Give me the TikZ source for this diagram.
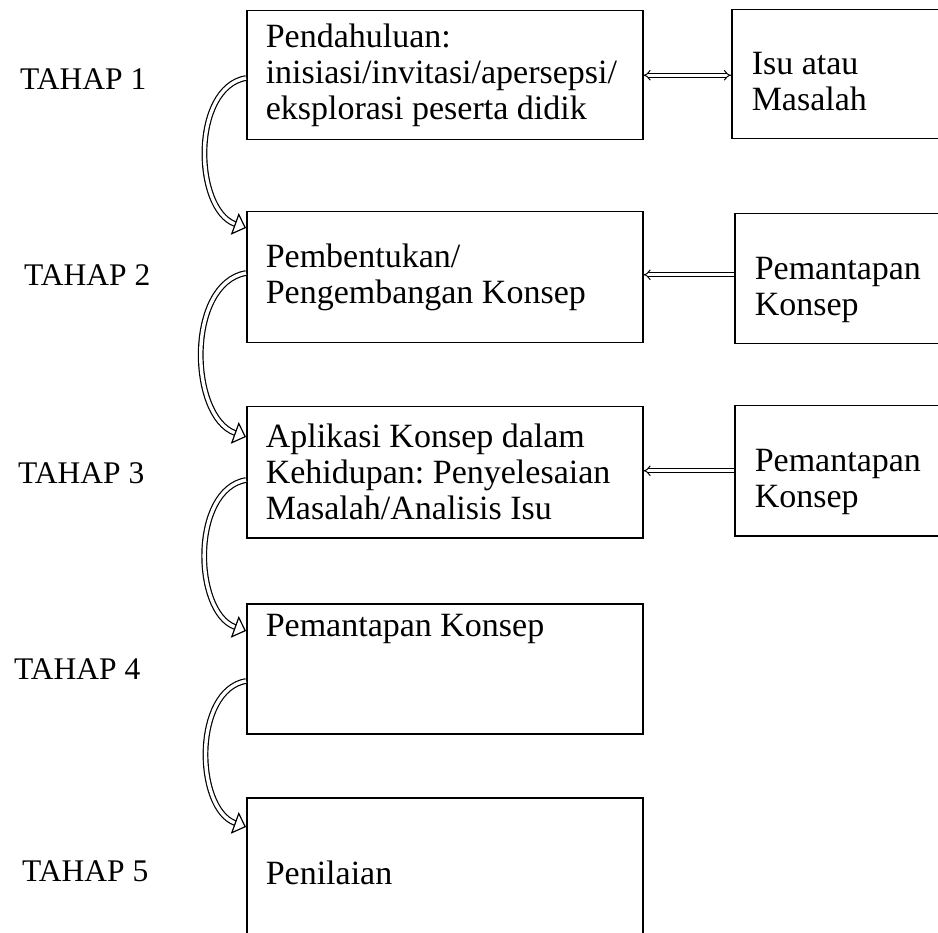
\documentclass[tikz,border=0pt]{standalone}
\usepackage{fontspec}
\setmainfont{Liberation Serif}
\usetikzlibrary{arrows.meta}
\frenchspacing

\tikzset{
  stagebox/.style={draw, line width=1.5pt, anchor=north west, minimum width=396pt,
    text width=358pt, inner xsep=19pt, align=flush left, font=\fontsize{34}{36}\selectfont},
  sidebox/.style={draw, line width=1.5pt, anchor=north west, minimum width=230pt,
    text width=190pt, inner xsep=20pt, align=flush left, font=\fontsize{34}{36}\selectfont},
  stagelabel/.style={anchor=west, inner sep=0pt, font=\fontsize{31.5}{36}\selectfont},
  flatarrow/.style={double, double distance=2.6pt, line width=1pt},
  bendarrow/.style={double, double distance=3.4pt, line width=1.2pt,
    -{Triangle[open, length=12pt, width=23pt, line width=1.2pt]}, out=190, in=160, looseness=0.95}
}

\begin{document}
\begin{tikzpicture}[x=1pt, y=1pt]
\clip (0,0) rectangle (938,-933);

% stages
\node[stagebox, minimum height=129pt] (s1) at (246,-10) {Pendahuluan:\\ inisiasi/invitasi/apersepsi/\\ eksplorasi peserta didik};
\node[stagebox, minimum height=131pt] (s2) at (246,-211) {Pembentukan/\\ Pengembangan Konsep};
\node[stagebox, minimum height=131pt] (s3) at (246,-406) {Aplikasi Konsep dalam\\ Kehidupan: Penyelesaian\\ Masalah/Analisis Isu};
\node[stagebox, minimum height=130pt, text depth=86pt] (s4) at (246,-603) {Pemantapan Konsep};
\node[stagebox, minimum height=150pt] (s5) at (246,-797) {Penilaian};

% side boxes
\node[sidebox, minimum height=129pt, text height=37pt] (i1) at (731,-9) {Isu atau\\ Masalah};
\node[sidebox, minimum height=130pt, text height=45pt] (p2) at (734,-213) {Pemantapan\\ Konsep};
\node[sidebox, minimum height=130pt, text height=45pt] (p3) at (734,-405) {Pemantapan\\ Konsep};

\foreach \i/\x/\y in {1/20/79, 2/24/275, 3/18/473, 4/14/669, 5/22/871}
  \node[stagelabel] (t\i) at (\x,-\y) {TAHAP \i};

% links to side boxes
\draw[flatarrow, {Implies}-{Implies}] (s1.east) -- (s1.east -| i1.west);
\draw[flatarrow, -{Implies}] ([yshift=4pt]p2.west) -- ([yshift=4pt]p2.west -| s2.east);
\draw[flatarrow, -{Implies}] (p3.west) -- (p3.west -| s3.east);

% flow between stages
\draw[bendarrow] ([yshift=-68pt]s1.north west) to ([yshift=-17pt]s2.north west);
\draw[bendarrow] ([yshift=-62pt]s2.north west) to ([yshift=-31pt]s3.north west);
\draw[bendarrow] ([yshift=-74pt]s3.north west) to ([yshift=-28pt]s4.north west);
\draw[bendarrow] ([yshift=-78pt]s4.north west) to ([yshift=-30pt]s5.north west);
\end{tikzpicture}
\end{document}
